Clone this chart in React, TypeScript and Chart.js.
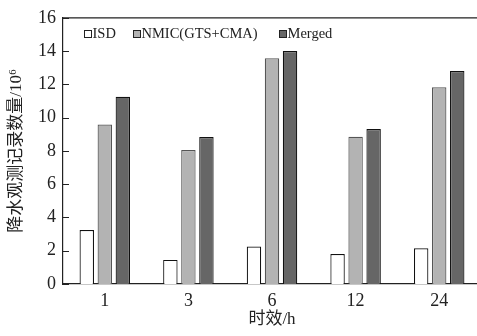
import { useEffect, useRef } from "react";
import { Chart, registerables } from "chart.js";

Chart.register(...registerables);

const categories = ["1", "3", "6", "12", "24"];
const isdValues = [3.25, 1.45, 2.25, 1.8, 2.15];
const nmicValues = [9.58, 8.05, 13.57, 8.85, 11.83];
const mergedValues = [11.25, 8.83, 14.0, 9.32, 12.8];
const seriesLabels = ["ISD", "NMIC(GTS+CMA)", "Merged"];
const yTitle = "降水观测记录数量/10⁶";
const xTitle = "时效/h";

const SERIF = "'Liberation Serif', 'Noto Sans CJK SC', serif";
const TITLE_FONT = "'Liberation Serif', 'Noto Sans CJK SC', sans-serif";
const INK = "#222";

const fills = ["#ffffff", "#b3b3b3", "#666666"];
const borders = ["#111111", "#555555", "#111111"];
const legendX = [84, 133, 279];

const decorPlugin = {
  id: "decor",
  afterDraw(chart: any) {
    const { ctx, chartArea } = chart;
    const { left, top, right } = chartArea;
    const y = chart.scales.y;
    ctx.save();
    ctx.strokeStyle = INK;
    ctx.lineWidth = 1.2;
    ctx.beginPath();
    ctx.moveTo(left, top);
    ctx.lineTo(right + 10, top);
    y.ticks.forEach((_t: any, i: number) => {
      const py = Math.round(y.getPixelForTick(i)) + 0.5;
      ctx.moveTo(left, py);
      ctx.lineTo(left + 6, py);
    });
    ctx.stroke();

    // legend inside plot
    ctx.font = `14.5px ${SERIF}`;
    ctx.textBaseline = "middle";
    ctx.textAlign = "left";
    const ly = 34;
    chart.data.datasets.forEach((ds: any, i: number) => {
      const bx = legendX[i];
      ctx.fillStyle = ds.backgroundColor;
      ctx.fillRect(bx, ly - 4, 7, 7);
      ctx.strokeStyle = INK;
      ctx.lineWidth = 1;
      ctx.strokeRect(bx + 0.5, ly - 3.5, 7, 7);
      ctx.fillStyle = INK;
      ctx.fillText(ds.label, bx + 8.5, ly + 0.5);
    });
    ctx.restore();
  },
};

export default function App() {
  const ref = useRef<HTMLCanvasElement>(null);

  useEffect(() => {
    document.body.style.margin = "0";
    const canvas = ref.current;
    if (!canvas) return;
    const values = [isdValues, nmicValues, mergedValues];
    const chart = new Chart(canvas, {
      type: "bar",
      data: {
        labels: categories,
        datasets: seriesLabels.map((label, i) => ({
          label,
          data: values[i],
          backgroundColor: fills[i],
          borderColor: borders[i],
          borderWidth: 1.2,
          borderSkipped: "bottom",
          categoryPercentage: 0.647,
          barPercentage: 0.8,
        })),
      },
      options: {
        responsive: false,
        animation: false,
        devicePixelRatio: 1,
        layout: { padding: { top: 14, right: 1, left: 0, bottom: 0 } },
        plugins: {
          legend: { display: false },
          tooltip: { enabled: false },
        },
        scales: {
          x: {
            grid: { display: false, drawTicks: false },
            border: { display: true, color: INK, width: 1.2 },
            ticks: {
              color: INK,
              font: { family: SERIF, size: 18 },
              padding: 6,
            },
            title: {
              display: true,
              text: xTitle,
              color: INK,
              font: { family: TITLE_FONT, size: 17 },
              padding: { top: 0, bottom: 5.8 },
            },
            afterFit(scale: any) {
              scale.height = 52;
            },
          },
          y: {
            min: 0,
            max: 16,
            grid: { display: false, drawTicks: false },
            border: { display: true, color: INK, width: 1.2 },
            ticks: {
              stepSize: 2,
              color: INK,
              font: { family: SERIF, size: 18 },
              padding: 7,
            },
            title: {
              display: true,
              text: yTitle,
              color: INK,
              font: { family: TITLE_FONT, size: 17 },
              padding: { top: 6.8, bottom: 0 },
            },
            afterFit(scale: any) {
              scale.width = 63;
            },
          },
        },
      },
      plugins: [decorPlugin],
    });
    return () => chart.destroy();
  }, []);

  return (
    <div style={{ width: 477, height: 336, overflow: "hidden", background: "#fff" }}>
      <canvas ref={ref} width={482} height={336} style={{ display: "block" }} />
    </div>
  );
}
